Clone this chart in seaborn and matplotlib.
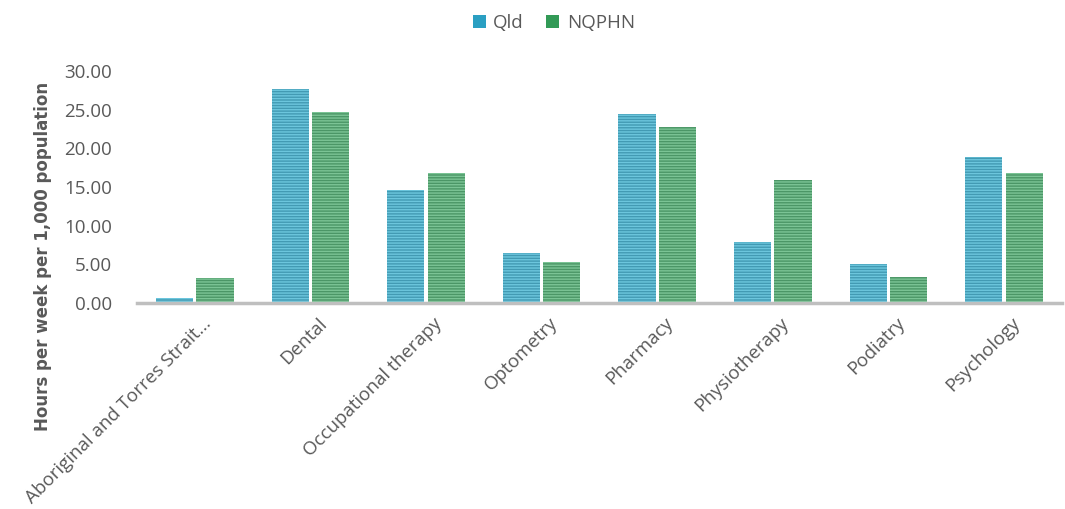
import matplotlib
matplotlib.use("Agg")
import matplotlib.pyplot as plt
import matplotlib.transforms as mtransforms
import seaborn as sns
import pandas as pd
from matplotlib.patches import Patch

categories = [
    "Aboriginal and Torres Strait...",
    "Dental",
    "Occupational therapy",
    "Optometry",
    "Pharmacy",
    "Physiotherapy",
    "Podiatry",
    "Psychology",
]
qld = [0.62, 27.65, 14.65, 6.45, 24.45, 7.95, 5.05, 18.85]
nqphn = [3.25, 24.7, 16.8, 5.3, 22.8, 15.9, 3.4, 16.85]
series = ["Qld", "NQPHN"]
yticks = [0, 5, 10, 15, 20, 25, 30]

face = {"Qld": "#2FA5C6", "NQPHN": "#3FA263"}
stripe = {"Qld": "#6CC6DD", "NQPHN": "#7BC495"}
legend_col = {"Qld": "#2A9FC2", "NQPHN": "#329A56"}

df = pd.DataFrame({
    "category": categories * 2,
    "series": ["Qld"] * len(categories) + ["NQPHN"] * len(categories),
    "value": qld + nqphn,
})

sns.set_theme(style="white")
plt.rcParams["font.family"] = ["Open Sans", "DejaVu Sans"]
plt.rcParams["hatch.linewidth"] = 1.0

fig = plt.figure(figsize=(10.65, 5.09), dpi=100)
ax = fig.add_axes([0.1286, 0.4047, 0.8684, 0.4558])

sns.barplot(data=df, x="category", y="value", hue="series", order=categories,
            hue_order=series, palette=face, width=0.7, gap=0.08,
            errorbar=None, legend=False, ax=ax)

# horizontal striping on every bar
for container, name in zip(ax.containers, series):
    for bar in container:
        bar.set_edgecolor(stripe[name])
        bar.set_linewidth(0)
        bar.set_hatch("------")

ax.set_xlim(-0.5, len(categories) - 0.5)
ax.set_ylim(0, 30)
ax.set_yticks(yticks)
ax.set_yticklabels([f"{t:.2f}" for t in yticks], fontsize=13.5, color="#595959")
ax.tick_params(axis="y", length=0, pad=18)
ax.tick_params(axis="x", length=0, pad=8)
ax.set_xticks(range(len(categories)))
ax.set_xticklabels(categories, rotation=45, ha="right", va="top",
                   rotation_mode="anchor", fontsize=13.5, color="#595959")
shift = mtransforms.ScaledTranslation(7 / 100, 0, fig.dpi_scale_trans)
for lbl in ax.get_xticklabels():
    lbl.set_transform(lbl.get_transform() + shift)

for side in ["top", "right", "left"]:
    ax.spines[side].set_visible(False)
ax.spines["bottom"].set_color("#BFBFBF")
ax.spines["bottom"].set_linewidth(2.5)

ax.set_xlabel("")
ax.set_ylabel("Hours per week per 1,000 population", fontsize=12,
              fontweight="bold", color="#595959",
              family=["DejaVu Sans"], va="center")
ax.yaxis.set_label_coords(-0.102, 0.2)

handles = [Patch(facecolor=legend_col[s], edgecolor="none", label=s) for s in series]
fig.legend(handles=handles, loc="center", bbox_to_anchor=(0.52, 0.955),
           ncol=2, frameon=False, fontsize=13.5, handlelength=0.7, handleheight=0.7,
           handletextpad=0.4, columnspacing=1.2, labelcolor="#595959")

fig.savefig("out.png", dpi=100, facecolor="white")
